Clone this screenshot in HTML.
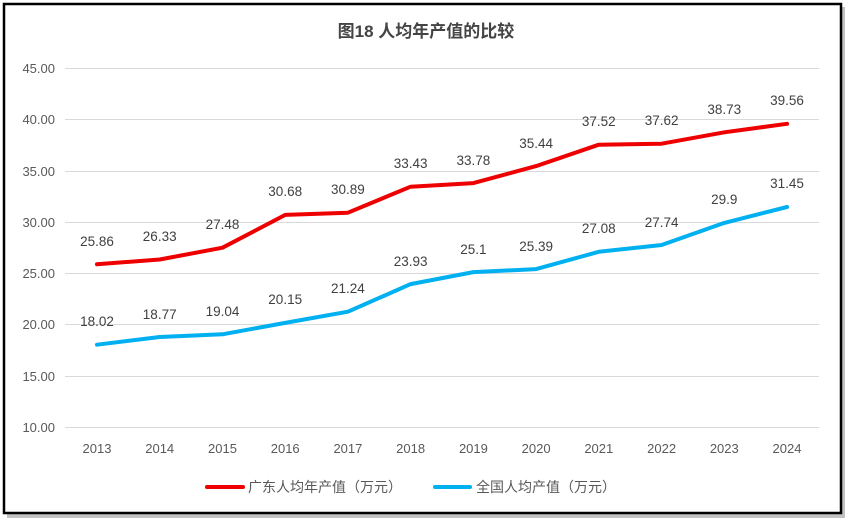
<!DOCTYPE html>
<html><head><meta charset="utf-8"><style>
html,body{margin:0;padding:0;background:#fff;}
svg{display:block;font-family:"Liberation Sans","Noto Sans CJK SC",sans-serif;}
</style></head><body>
<svg width="852" height="525" viewBox="0 0 852 525" xmlns="http://www.w3.org/2000/svg">
<rect x="7" y="7" width="838" height="511" fill="#9a9a9a" opacity="0.6"/>
<rect x="4" y="4" width="837" height="509" fill="#fff" stroke="#000" stroke-width="2.5"/>
<text x="426" y="37" text-anchor="middle" font-size="17" font-weight="bold" fill="#444">图18  人均年产值的比较</text>
<g stroke="#d9d9d9" stroke-width="1">
<line x1="65" x2="819" y1="68.5" y2="68.5"/><line x1="65" x2="819" y1="119.5" y2="119.5"/>
<line x1="65" x2="819" y1="171.5" y2="171.5"/><line x1="65" x2="819" y1="222.5" y2="222.5"/>
<line x1="65" x2="819" y1="273.5" y2="273.5"/><line x1="65" x2="819" y1="324.5" y2="324.5"/>
<line x1="65" x2="819" y1="376.5" y2="376.5"/><line x1="65" x2="819" y1="427.5" y2="427.5"/>
</g>
<g font-size="13" fill="#595959" text-anchor="end">
<text x="55" y="73">45.00</text><text x="55" y="124">40.00</text><text x="55" y="176">35.00</text>
<text x="55" y="227">30.00</text><text x="55" y="278">25.00</text><text x="55" y="329">20.00</text>
<text x="55" y="381">15.00</text><text x="55" y="432">10.00</text>
</g>
<g font-size="13" fill="#595959" text-anchor="middle">
<text x="97" y="453">2013</text><text x="159.7" y="453">2014</text><text x="222.5" y="453">2015</text>
<text x="285.2" y="453">2016</text><text x="347.9" y="453">2017</text><text x="410.6" y="453">2018</text>
<text x="473.4" y="453">2019</text><text x="536.1" y="453">2020</text><text x="598.8" y="453">2021</text>
<text x="661.6" y="453">2022</text><text x="724.3" y="453">2023</text><text x="787" y="453">2024</text>
</g>
<polyline fill="none" stroke="#ee0000" stroke-width="4" stroke-linejoin="round" stroke-linecap="round"
points="97,264.3 159.7,259.5 222.5,247.7 285.2,214.9 347.9,212.7 410.6,186.7 473.4,183.1 536.1,166.1 598.8,144.7 661.6,143.7 724.3,132.3 787,123.8"/>
<polyline fill="none" stroke="#00b0f0" stroke-width="4" stroke-linejoin="round" stroke-linecap="round"
points="97,344.7 159.7,337 222.5,334.3 285.2,322.9 347.9,311.7 410.6,284.1 473.4,272.1 536.1,269.1 598.8,251.8 661.6,245 724.3,222.9 787,207"/>
<g font-size="13.5" fill="#404040" text-anchor="middle">
<text x="97" y="246">25.86</text><text x="159.7" y="241">26.33</text><text x="222.5" y="229">27.48</text>
<text x="285.2" y="196">30.68</text><text x="347.9" y="194">30.89</text><text x="410.6" y="168">33.43</text>
<text x="473.4" y="165">33.78</text><text x="536.1" y="148">35.44</text><text x="598.8" y="126">37.52</text>
<text x="661.6" y="125">37.62</text><text x="724.3" y="114">38.73</text><text x="787" y="105">39.56</text>
<text x="97" y="326">18.02</text><text x="159.7" y="319">18.77</text><text x="222.5" y="316">19.04</text>
<text x="285.2" y="304">20.15</text><text x="347.9" y="293">21.24</text><text x="410.6" y="266">23.93</text>
<text x="473.4" y="254">25.1</text><text x="536.1" y="251">25.39</text><text x="598.8" y="233">27.08</text>
<text x="661.6" y="227">27.74</text><text x="724.3" y="204">29.9</text><text x="787" y="188">31.45</text>
</g>
<line x1="207" x2="243" y1="487" y2="487" stroke="#ee0000" stroke-width="4" stroke-linecap="round"/>
<text x="248" y="492" font-size="14" fill="#595959">广东人均年产值（万元）</text>
<line x1="435" x2="470" y1="487" y2="487" stroke="#00b0f0" stroke-width="4" stroke-linecap="round"/>
<text x="476" y="492" font-size="14" fill="#595959">全国人均产值（万元）</text>
</svg>
</body></html>
